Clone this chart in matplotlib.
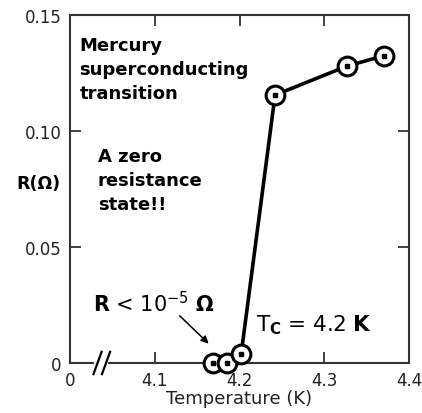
import matplotlib
matplotlib.use("Agg")
import matplotlib.pyplot as plt

# mercury resistance near the superconducting transition
temp_K = [4.169, 4.185, 4.202, 4.242, 4.327, 4.371]
resist_ohm = [0.0, 0.0, 0.004, 0.1155, 0.128, 0.1325]

xticks = [4.0, 4.1, 4.2, 4.3, 4.4]
xticklabels = ["0", "4.1", "4.2", "4.3", "4.4"]
yticks = [0, 0.05, 0.10, 0.15]
yticklabels = ["0", "0.05", "0.10", "0.15"]

fig = plt.figure(figsize=(4.22, 4.14), dpi=100)
ax = fig.add_axes([70/422, 50/414, 339/422, 348/414])

ax.plot(temp_K, resist_ohm, color="black", lw=2.6, zorder=3)
ax.plot(temp_K, resist_ohm, ls="none", marker="o", ms=13.5, mfc="white",
        mec="black", mew=2.2, zorder=4, clip_on=False)
ax.plot(temp_K, resist_ohm, ls="none", marker="s", ms=3.5, color="black",
        zorder=5, clip_on=False)

ax.set_xlim(4.0, 4.4)
ax.set_ylim(0, 0.15)
ax.set_xticks(xticks)
ax.set_xticklabels(xticklabels)
ax.set_yticks(yticks)
ax.set_yticklabels(yticklabels)
ax.tick_params(direction="in", length=8, width=1.3, color="#333333",
               top=True, right=True, labelsize=12, pad=6,
               labelcolor="#222222")
for s in ax.spines.values():
    s.set_linewidth(1.5)
    s.set_color("#333333")

ax.set_xlabel("Temperature (K)", fontsize=13, labelpad=0, color="#222222")

# axis break: white gap in the spine with two slashes
ax.plot([4.031, 4.043], [0, 0], color="white", lw=3, clip_on=False, zorder=6)
for xc in (4.0325, 4.0425):
    ax.plot([xc - 0.0048, xc + 0.0048], [-0.0048, 0.0048], color="black",
            lw=1.6, clip_on=False, zorder=7)

fig.text(16/422, 1 - 184/414, "R(Ω)", fontsize=12.5, fontweight="bold",
         va="center", ha="left")
ax.text(4.011, 0.141, "Mercury\nsuperconducting\ntransition", fontsize=13,
        fontweight="bold", va="top", ha="left", linespacing=1.42)
ax.text(4.033, 0.093, "A zero\nresistance\nstate!!", fontsize=13,
        fontweight="bold", va="top", ha="left", linespacing=1.42)
ax.text(4.027, 0.026, r"$\mathbf{R}$ < 10$^{-5}$ $\mathbf{\Omega}$",
        fontsize=15, va="center", ha="left")
ax.text(4.219, 0.0168, r"T$_\mathbf{C}$ = 4.2 $\mathbf{K}$", fontsize=15.5,
        va="center", ha="left")
ax.annotate("", xy=(4.166, 0.0075), xytext=(4.127, 0.0212),
            arrowprops=dict(arrowstyle="-|>", color="black", lw=1.1,
                            mutation_scale=11))

fig.savefig("out.png", dpi=100)
